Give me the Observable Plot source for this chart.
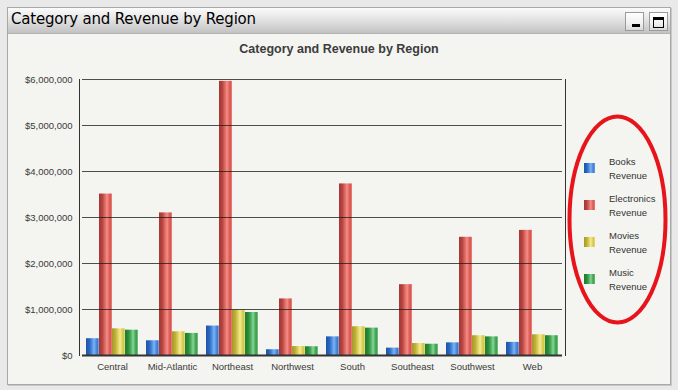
<!DOCTYPE html>
<html>
<head>
<meta charset="utf-8">
<script src="https://cdn.jsdelivr.net/npm/d3@7"></script>
<script src="https://cdn.jsdelivr.net/npm/@observablehq/plot@0.6"></script>
<style>
  html, body { margin: 0; padding: 0; }
  body { width: 678px; height: 390px; background: #e9e9e9; position: relative; overflow: hidden;
         font-family: "Liberation Sans", Arial, sans-serif; }
  #panel { position: absolute; left: 7px; top: 7px; width: 662px; height: 376px;
           border: 1px solid #a8a8a8; background: #f4f4f0; box-shadow: 1px 1px 0 #c8c8c8; }
  #titlebar { position: absolute; left: 0; top: 0; right: 0; height: 25px;
              background: linear-gradient(#fbfbfb, #e4e4e4 45%, #c2c2c2); border-bottom: 1px solid #b4b4b4; }
  #wintitle { position: absolute; left: 3px; top: 2px; font-size: 15px; color: #000; white-space: nowrap;
              font-family: "DejaVu Sans", sans-serif; letter-spacing: -0.2px; }
  .btn { position: absolute; top: 4px; width: 19px; height: 19px; border: 1px solid #9a9a9a;
         background: linear-gradient(#ffffff, #f0f0f0 60%, #d8d8d8); box-sizing: border-box; }
  #bmin::after { content: ""; position: absolute; left: 6px; top: 11px; width: 8px; height: 3px; background: #000; }
  #bmax::after { content: ""; position: absolute; left: 3px; top: 4px; width: 9px; height: 7px;
                 border: 1.5px solid #000; border-top-width: 3px; }
  #charttitle { position: absolute; left: 0; width: 678px; top: 42px; text-align: center;
                font-weight: bold; font-size: 12.5px; color: #3c3c3c; }
  #chart { position: absolute; left: 0; top: 0; }
  .leg { position: absolute; left: 584px; font-size: 9.5px; color: #333; line-height: 14px; }
  .leg .sw { position: absolute; left: 0; top: 8px; width: 11px; height: 10px; }
  .leg .tx { position: absolute; left: 25px; top: 0; white-space: nowrap; }
  #ring { position: absolute; left: 0; top: 0; pointer-events: none; }
</style>
</head>
<body>
<svg width="0" height="0" style="position:absolute">
  <defs>
    <linearGradient id="gBooks" x1="0" x2="1" y1="0" y2="0">
      <stop offset="0%" stop-color="#1d54a6"/><stop offset="25%" stop-color="#2865bd"/>
      <stop offset="45%" stop-color="#4c8cdf"/><stop offset="62%" stop-color="#7db3f3"/>
      <stop offset="80%" stop-color="#4a88dc"/><stop offset="93%" stop-color="#3a78cf"/>
      <stop offset="100%" stop-color="#a9cdf5"/>
    </linearGradient>
    <linearGradient id="gElec" x1="0" x2="1" y1="0" y2="0">
      <stop offset="0%" stop-color="#a13936"/><stop offset="25%" stop-color="#b6433f"/>
      <stop offset="45%" stop-color="#de6963"/><stop offset="62%" stop-color="#f28f87"/>
      <stop offset="80%" stop-color="#df605a"/><stop offset="93%" stop-color="#d8534d"/>
      <stop offset="100%" stop-color="#f6aca5"/>
    </linearGradient>
    <linearGradient id="gMovies" x1="0" x2="1" y1="0" y2="0">
      <stop offset="0%" stop-color="#a6982a"/><stop offset="25%" stop-color="#bdae35"/>
      <stop offset="45%" stop-color="#dccf5e"/><stop offset="62%" stop-color="#f3eb92"/>
      <stop offset="80%" stop-color="#dbce57"/><stop offset="93%" stop-color="#d1c349"/>
      <stop offset="100%" stop-color="#f6f0b2"/>
    </linearGradient>
    <linearGradient id="gMusic" x1="0" x2="1" y1="0" y2="0">
      <stop offset="0%" stop-color="#1f7a30"/><stop offset="25%" stop-color="#2a8b3b"/>
      <stop offset="45%" stop-color="#4daf5e"/><stop offset="62%" stop-color="#87d597"/>
      <stop offset="80%" stop-color="#49a959"/><stop offset="93%" stop-color="#3b9b4b"/>
      <stop offset="100%" stop-color="#a9e1b3"/>
    </linearGradient>
  </defs>
</svg>

<div id="panel">
  <div id="titlebar">
    <div id="wintitle">Category and Revenue by Region</div>
    <div class="btn" id="bmin" style="left:617px"></div>
    <div class="btn" id="bmax" style="left:641px"></div>
  </div>
</div>
<div id="charttitle">Category and Revenue by Region</div>
<div id="chart"></div>
<div id="legend"></div>
<svg id="ring" width="678" height="390">
  <ellipse cx="617.5" cy="219.5" rx="48" ry="103" fill="none" stroke="#e8141c" stroke-width="4"/>
</svg>

<script>
// ---- data ----
const regions = ["Central", "Mid-Atlantic", "Northeast", "Northwest", "South", "Southeast", "Southwest", "Web"];
const seriesNames = ["Books Revenue", "Electronics Revenue", "Movies Revenue", "Music Revenue"];
const booksRevenue       = [365000, 320000, 640000, 125000, 405000, 160000, 275000, 285000];
const electronicsRevenue = [3510000, 3100000, 5960000, 1230000, 3730000, 1540000, 2570000, 2720000];
const moviesRevenue      = [580000, 515000, 990000, 195000, 625000, 260000, 430000, 450000];
const musicRevenue       = [550000, 480000, 935000, 190000, 595000, 245000, 405000, 430000];
const yTicks = [0, 1000000, 2000000, 3000000, 4000000, 5000000, 6000000];

// ---- styling ----
const fills = {
  "Books Revenue": "url(#gBooks)",
  "Electronics Revenue": "url(#gElec)",
  "Movies Revenue": "url(#gMovies)",
  "Music Revenue": "url(#gMusic)"
};
const swatches = {
  "Books Revenue": "linear-gradient(90deg,#1d54a6,#2865bd 25%,#4c8cdf 45%,#7db3f3 62%,#4a88dc 80%,#3a78cf 93%,#a9cdf5)",
  "Electronics Revenue": "linear-gradient(90deg,#a13936,#b6433f 25%,#de6963 45%,#f28f87 62%,#df605a 80%,#d8534d 93%,#f6aca5)",
  "Movies Revenue": "linear-gradient(90deg,#a6982a,#bdae35 25%,#dccf5e 45%,#f3eb92 62%,#dbce57 80%,#d1c349 93%,#f6f0b2)",
  "Music Revenue": "linear-gradient(90deg,#1f7a30,#2a8b3b 25%,#4daf5e 45%,#87d597 62%,#49a959 80%,#3b9b4b 93%,#a9e1b3)"
};

const seriesValues = [booksRevenue, electronicsRevenue, moviesRevenue, musicRevenue];
const rows = [];
regions.forEach((r, i) => {
  seriesNames.forEach((s, j) => rows.push({region: r, series: s, value: seriesValues[j][i]}));
});

const fmt = d3.format("$,");

const plot = Plot.plot({
  width: 678,
  height: 390,
  marginLeft: 79,
  marginRight: 113,
  marginTop: 79,
  marginBottom: 35,
  style: {background: "transparent", fontFamily: "Liberation Sans, Arial, sans-serif", fontSize: "9.5px", color: "#3a3a3a", overflow: "visible"},
  facet: {data: rows, x: "region"},
  fx: {domain: regions, padding: 0, tickSize: 0, tickPadding: 8, label: null},
  x: {domain: seriesNames, axis: null, paddingInner: 0, paddingOuter: 0.3},
  y: {domain: [0, 6000000], ticks: yTicks, tickFormat: fmt, tickSize: 0, tickPadding: 10, label: null},
  marks: [
    ...seriesNames.map(s => Plot.barY(rows, {
      filter: d => d.series === s,
      x: "series",
      y: "value",
      fill: fills[s]
    })),
    Plot.ruleY(yTicks.slice(1), {stroke: "#1e1e1e", strokeOpacity: 0.78, strokeWidth: 1}),
    Plot.ruleY([0], {stroke: "#333", strokeWidth: 2})
  ]
});
document.getElementById("chart").appendChild(plot);

// plot-area side lines from the y scale
const ys = plot.scale("y");
const y0 = ys.apply(0), y6 = ys.apply(6000000);
const svg = d3.select(plot);
svg.append("line").attr("x1", 79.5).attr("x2", 79.5).attr("y1", y6).attr("y2", y0 + 1)
  .attr("stroke", "#333").attr("stroke-width", 1);
svg.append("line").attr("x1", 565.5).attr("x2", 565.5).attr("y1", y6).attr("y2", y0 + 1)
  .attr("stroke", "#333").attr("stroke-width", 1);

// legend
const legend = document.getElementById("legend");
seriesNames.forEach((s, i) => {
  const d = document.createElement("div");
  d.className = "leg";
  d.style.top = (155 + i * 37) + "px";
  const parts = s.split(" ");
  d.innerHTML = `<div class="sw" style="background:${swatches[s]}"></div><div class="tx">${parts[0]}<br>${parts[1]}</div>`;
  legend.appendChild(d);
});
</script>
</body>
</html>
